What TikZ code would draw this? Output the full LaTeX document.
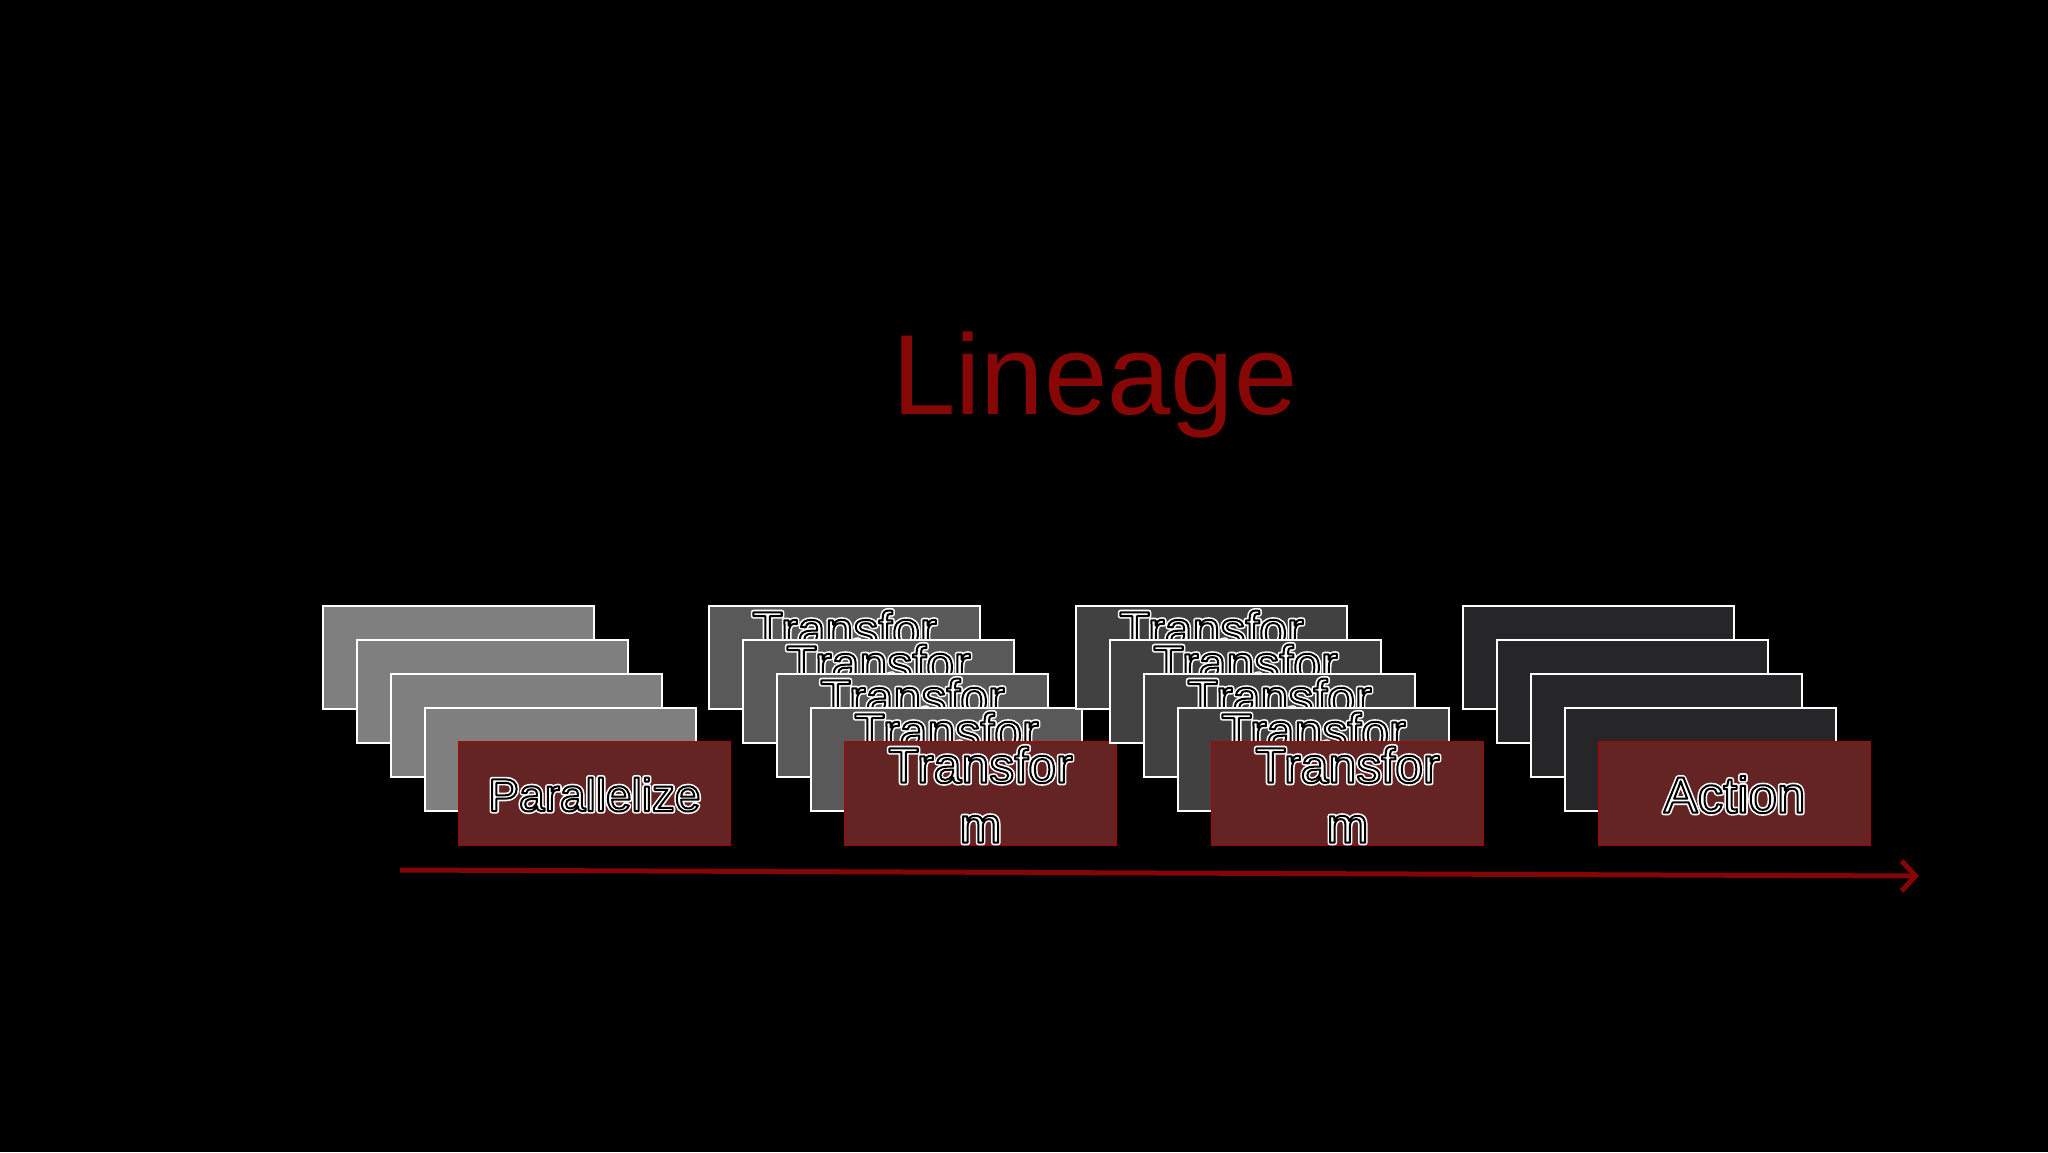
\documentclass[tikz,border=0pt]{standalone}
\usepackage{fontspec}
\setmainfont{Liberation Sans}
\usetikzlibrary{arrows.meta}
\definecolor{gA}{HTML}{7F7F7F}
\definecolor{gB}{HTML}{595959}
\definecolor{gC}{HTML}{414141}
\definecolor{gD}{HTML}{262628}
\definecolor{redfill}{HTML}{652424}
\definecolor{redline}{HTML}{8A1212}
\definecolor{titlered}{HTML}{870606}
\definecolor{arrowred}{HTML}{850505}
\newcommand\outl[1]{\leavevmode{\color{white}\rlap{\special{pdf:code q 1 G 5.2 w 1 j 1 Tr}#1\special{pdf:code 0 Tr Q}}\special{pdf:code q 0 G 2 w 1 j 2 Tr}#1\special{pdf:code 0 Tr Q}}}
\begin{document}
\begin{tikzpicture}[x=1pt,y=-1pt,
  card/.style={rectangle, draw=white, line width=2pt, minimum width=271pt, minimum height=103pt, inner sep=0pt, outer sep=0pt, anchor=north west},
  redcard/.style={rectangle, draw=redline, line width=1.6pt, fill=redfill, minimum width=271pt, minimum height=103pt, inner sep=0pt, outer sep=0pt, anchor=north west},
  lbl/.style={text=white, inner sep=0pt, anchor=base, align=center, text width=271pt},
  tlbl/.style={lbl, font=\fontsize{50}{60}\selectfont},
  arrowline/.style={draw=arrowred, line width=5pt, -{Straight Barb[length=14pt,width=30pt]}}
]
\fill[black] (0,0) rectangle (2048,1152);
\node[text=titlered, font=\fontsize{114}{130}\selectfont, inner sep=0pt, anchor=base] (title) at (1095,414) {Lineage};
% group 1
\foreach \k in {0,...,3}{
  \node[card, fill=gA] (ca\k) at ({323+34*\k},{606+34*\k}) {};
}
\node[redcard] (ra) at (459,742) {};
\node[lbl, font=\fontsize{46}{55}\selectfont] (ta) at ([yshift=-69pt]ra.north) {\outl{Parallelize}};
% group 2
\foreach \k in {0,...,3}{
  \node[card, fill=gB] (cb\k) at ({709+34*\k},{606+34*\k}) {};
  \node[tlbl] (tb\k) at ([yshift=-40.7pt]cb\k.north) {\outl{Transfor}\\\outl{m}};
}
\node[redcard] (rb) at (845,742) {};
\node[tlbl] (tb) at ([yshift=-40.7pt]rb.north) {\outl{Transfor}\\\outl{m}};
% group 3
\foreach \k in {0,...,3}{
  \node[card, fill=gC] (cc\k) at ({1076+34*\k},{606+34*\k}) {};
  \node[tlbl] (tc\k) at ([yshift=-40.7pt]cc\k.north) {\outl{Transfor}\\\outl{m}};
}
\node[redcard] (rc) at (1212,742) {};
\node[tlbl] (tc) at ([yshift=-40.7pt]rc.north) {\outl{Transfor}\\\outl{m}};
% group 4
\foreach \k in {0,...,3}{
  \node[card, fill=gD] (cd\k) at ({1463+34*\k},{606+34*\k}) {};
}
\node[redcard] (rd) at (1599,742) {};
\node[lbl, font=\fontsize{51}{61}\selectfont] (td) at ([yshift=-70.7pt]rd.north) {\outl{Action}};
% arrow
\coordinate (as) at (400,870);
\coordinate (ae) at (1919,876);
\draw[arrowline] (as) -- (ae);
\end{tikzpicture}
\end{document}
